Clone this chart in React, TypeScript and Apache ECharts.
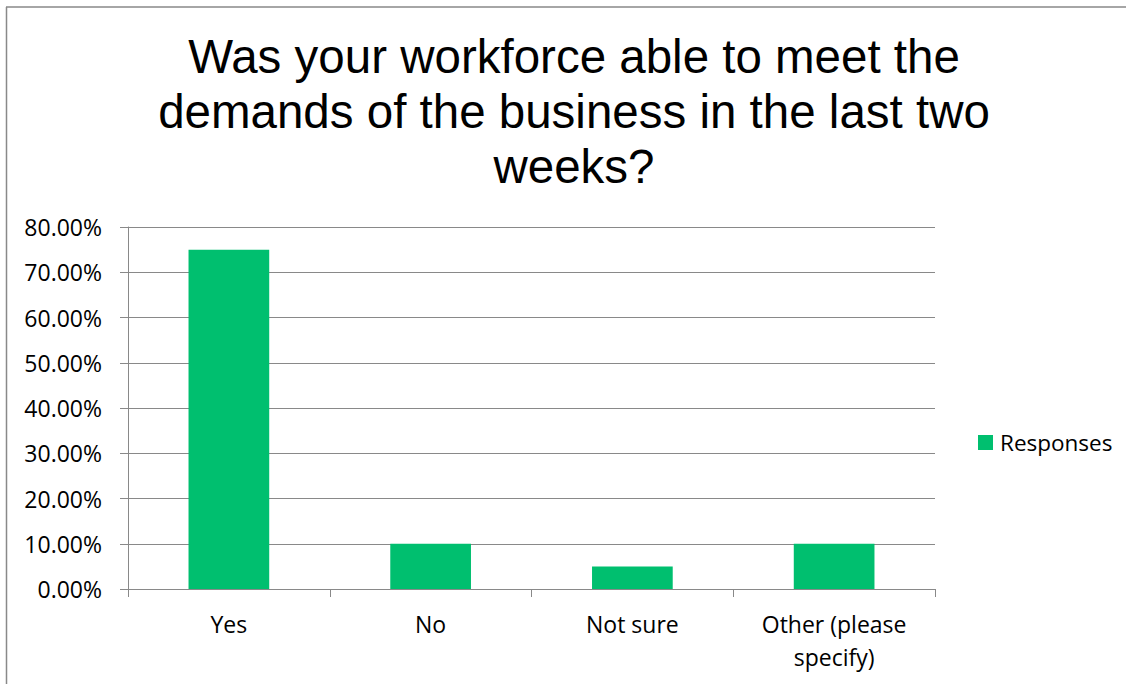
import React, { useEffect, useRef } from "react";
import * as echarts from "echarts";

const titleLines = [
  "Was your workforce able to meet the",
  "demands of the business in the last two",
  "weeks?",
];
const categories = ["Yes", "No", "Not sure", "Other (please\nspecify)"];
const responses = [0.75, 0.1, 0.05, 0.1];
const seriesName = "Responses";
const yMin = 0;
const yMax = 0.8;
const yStep = 0.1;

const GRAY = "#898989";
const GREEN = "#00BF6F";
const LABEL_FONT = "'Open Sans', 'Noto Sans', sans-serif";

export default function App() {
  const ref = useRef<HTMLDivElement>(null);
  useEffect(() => {
    if (!ref.current) return;
    const chart = echarts.init(ref.current, null, { renderer: "svg" });
    chart.setOption({
      animation: false,
      backgroundColor: "#ffffff",
      title: {
        text: titleLines.join("\n"),
        left: 574,
        textAlign: "center",
        top: 29,
        padding: 0,
        textStyle: {
          fontFamily: "'Liberation Sans', Arial, sans-serif",
          fontSize: 47.5,
          fontWeight: "normal",
          color: "#000000",
          lineHeight: 55,
        },
      },
      legend: {
        data: [seriesName],
        orient: "vertical",
        left: 978,
        top: 431,
        padding: 0,
        itemWidth: 15,
        itemHeight: 15,
        icon: "rect",
        textStyle: {
          fontFamily: LABEL_FONT,
          fontSize: 22.5,
          color: "#000000",
          padding: [0, 0, 0, 2],
        },
      },
      grid: {
        left: 128,
        right: 191,
        top: 227,
        bottom: 95,
        containLabel: false,
      },
      xAxis: {
        type: "category",
        data: categories,
        axisLine: { show: true, lineStyle: { color: GRAY, width: 1 } },
        axisTick: {
          show: true,
          alignWithLabel: false,
          length: 8,
          lineStyle: { color: GRAY, width: 1 },
        },
        axisLabel: {
          interval: 0,
          margin: 18,
          fontFamily: LABEL_FONT,
          fontSize: 23,
          lineHeight: 33,
          color: "#000000",
        },
        splitLine: { show: false },
      },
      yAxis: {
        type: "value",
        min: yMin,
        max: yMax,
        interval: yStep,
        axisLine: { show: true, lineStyle: { color: GRAY, width: 1 } },
        axisTick: { show: true, length: 8, lineStyle: { color: GRAY, width: 1 } },
        axisLabel: {
          margin: 26,
          fontFamily: LABEL_FONT,
          fontSize: 23,
          color: "#000000",
          formatter: (v: number) => (v * 100).toFixed(2) + "%",
        },
        splitLine: { show: true, lineStyle: { color: GRAY, width: 1 } },
      },
      series: [
        {
          name: seriesName,
          type: "bar",
          data: responses,
          barCategoryGap: "60%",
          itemStyle: { color: GREEN },
        },
      ],
      graphic: [
        {
          type: "line",
          shape: { x1: 6, y1: 7, x2: 1126, y2: 7 },
          style: { stroke: GRAY, lineWidth: 1.5 },
          silent: true,
        },
        {
          type: "line",
          shape: { x1: 6.5, y1: 7, x2: 6.5, y2: 684 },
          style: { stroke: GRAY, lineWidth: 1.5 },
          silent: true,
        },
      ],
    });
    return () => chart.dispose();
  }, []);
  return (
    <div
      ref={ref}
      style={{ position: "absolute", left: 0, top: 0, width: 1126, height: 684 }}
    />
  );
}
